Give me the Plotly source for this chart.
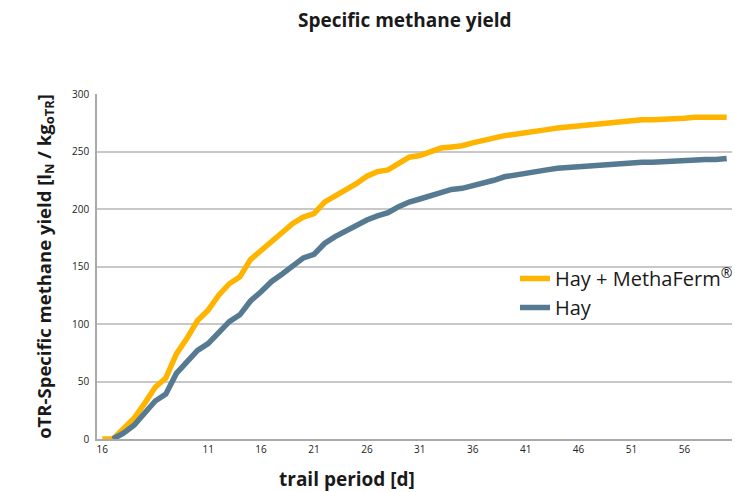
import plotly.graph_objects as go

days = list(range(1, 61))
hay_methaferm = [0, 0, 9, 18, 31, 45, 53, 74, 87.5, 103, 112, 125, 135, 141, 156, 164, 173, 180, 187.5, 193,
                 196, 206, 211, 216.5, 222, 228.5, 232.5, 234, 239.5, 245, 246.5, 250, 253, 254, 255, 257.5, 260, 262, 263.8, 265,
                 266.7, 267.5, 269, 270.4, 271.3, 272.8, 273.3, 274, 274.8, 276, 277, 277.7, 277.7, 278.5, 279, 279, 279.7, 280, 280, 279.7]
hay = [None, 0, 5, 12, 22, 33, 39, 57, 67, 77, 83, 93, 102, 108, 120, 128, 137, 143.5, 151, 157.5,
       160.5, 170, 176, 181, 185.8, 190.4, 194, 196.8, 202, 206, 208.7, 211.6, 214.8, 217, 218, 220, 222.3, 225, 228, 229.3,
       230.4, 231.6, 234, 235.4, 236, 237.4, 237.7, 238, 238.3, 239.7, 240.6, 240.6, 240.6, 241.2, 241.4, 242, 243, 243, 243, 244]
tick_vals = [1, 11, 16, 21, 26, 31, 36, 41, 46, 51, 56]
tick_text = ["16", "11", "16", "21", "26", "31", "36", "41", "46", "51", "56"]
y_ticks = [0, 50, 100, 150, 200, 250, 300]

FONT = "Open Sans"
W, H = 735, 492
ML, MR, MT, MB = 97, 3, 94, 53
pw = W - ML - MR
ph = H - MT - MB

fig = go.Figure()
fig.add_trace(go.Scatter(x=days, y=hay_methaferm, mode="lines", name="Hay + MethaFerm<sup>®</sup>",
                         line=dict(color="#FFB400", width=5.5)))
fig.add_trace(go.Scatter(x=days, y=hay, mode="lines", name="Hay",
                         line=dict(color="#557A92", width=5.5)))

fig.update_layout(
    width=W, height=H,
    paper_bgcolor="white", plot_bgcolor="white",
    margin=dict(l=ML, r=MR, t=MT, b=MB, autoexpand=False),
    font=dict(family=FONT, color="#1a1a1a"),
    showlegend=True,
    legend=dict(x=(515 - ML) / pw, y=(H - MB - 293) / ph, xanchor="left", yanchor="middle",
                font=dict(size=20, color="#1a1a1a"), bgcolor="rgba(0,0,0,0)",
                tracegroupgap=0),
    xaxis=dict(range=[0.5, 60.5], tickmode="array", tickvals=tick_vals, ticktext=tick_text,
               showgrid=False, zeroline=False, showline=True, linecolor="#aaaaaa", linewidth=1.5,
               ticks="", tickfont=dict(size=10, color="#222"), fixedrange=True),
    yaxis=dict(range=[0, 300], tickmode="array", tickvals=y_ticks,
               showgrid=True, gridcolor="#c8c8c8", gridwidth=1.5, zeroline=False,
               showline=True, linecolor="#aaaaaa", linewidth=1.5,
               ticks="", tickfont=dict(size=10, color="#222"), ticklabelstandoff=4,
               title=dict(text="<b>oTR-Specific methane yield [l<sub>N</sub> / kg<sub>oTR</sub>]</b>",
                          font=dict(size=18.5, color="#1a1a1a"), standoff=16)),
)
fig.add_annotation(text="<b>Specific methane yield</b>", x=(405 - ML) / pw, y=(H - MB - 20) / ph,
                   xref="paper", yref="paper", showarrow=False, xanchor="center", yanchor="middle",
                   font=dict(size=19, color="#1a1a1a"))
fig.add_annotation(text="<b>trail period [d]</b>", x=(347 - ML) / pw, y=(H - MB - 479) / ph,
                   xref="paper", yref="paper", showarrow=False, xanchor="center", yanchor="middle",
                   font=dict(size=19, color="#1a1a1a"))
fig.write_html("out.html", config={"displayModeBar": False},
               post_script="document.body.style.margin='0';document.body.style.overflow='hidden';")
